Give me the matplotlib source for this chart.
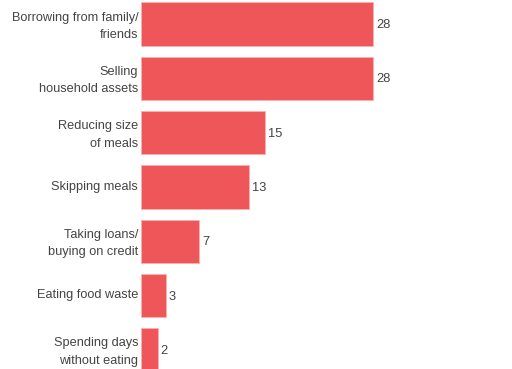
import matplotlib
matplotlib.use('Agg')
import matplotlib.pyplot as plt
from matplotlib.transforms import ScaledTranslation

categories = ['Borrowing from family/\nfriends', 'Selling\nhousehold assets', 'Reducing size\nof meals',
              'Skipping meals', 'Taking loans/\nbuying on credit', 'Eating food waste',
              'Spending days\nwithout eating']
values = [28, 28, 15, 13, 7, 3, 2]

bar_color = '#ef5659'
text_color = '#444444'

plt.rcParams['font.family'] = ['Liberation Sans', 'DejaVu Sans']

fig = plt.figure(figsize=(5.12, 3.69), dpi=100)
# axes placed in pixel terms: left edge of bars at x=141
ax = fig.add_axes([141 / 512, 0, 1 - 141 / 512, 1])

pos = list(range(len(values)))
ax.barh(pos, values, height=0.8, color=bar_color, edgecolor='#f8b0b0', linewidth=0.6)

px_per_unit = 232 / 28
ax.set_xlim(0, (512 - 141) / px_per_unit)
pitch = 54.3
ax.set_ylim(6 + 19 / pitch, -24 / pitch)

for p, v in zip(pos, values):
    ax.text(v + 3 / px_per_unit, p + 0.02, str(v), va='center', ha='left', fontsize=9.3, color=text_color)

ax.set_yticks(pos)
ax.set_yticklabels(categories, fontsize=9.2, color=text_color, linespacing=1.6)
ax.tick_params(axis='y', length=0, pad=2)
# nudge labels up a couple of pixels
shift = ScaledTranslation(0, 2 / 100, fig.dpi_scale_trans)
for lab in ax.get_yticklabels():
    lab.set_transform(lab.get_transform() + shift)
ax.set_xticks([])
for s in ax.spines.values():
    s.set_visible(False)

fig.savefig('out.png', dpi=100)
